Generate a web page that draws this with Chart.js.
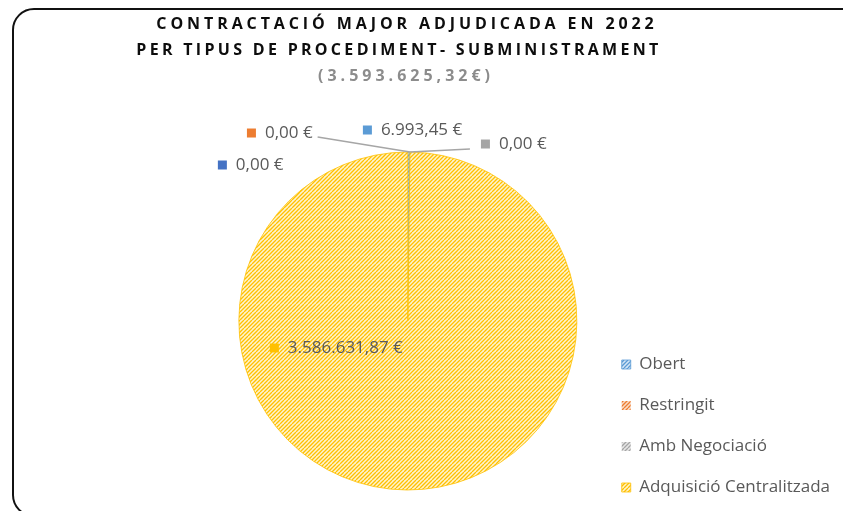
<!DOCTYPE html>
<html>
<head>
<meta charset="utf-8">
<script src="https://cdn.jsdelivr.net/npm/chart.js@4.4.1/dist/chart.umd.min.js"></script>
<style>
    html, body { margin: 0; padding: 0; background: #fff; overflow: hidden; }
    #wrap { position: relative; width: 843px; height: 511px; overflow: hidden; }
    #frame {
        position: absolute; left: 12px; top: 8px; width: 880px; height: 509px;
        box-sizing: border-box; border: 2px solid #111; border-radius: 22px;
        pointer-events: none;
    }
    #chart { position: absolute; left: 0; top: 0; }
</style>
</head>
<body>
<div id="wrap">
    <canvas id="chart" width="843" height="540"></canvas>
    <div id="frame"></div>
</div>
<script>
const categories = ['Obert', 'Restringit', 'Amb Negociació', 'Adquisició Centralitzada', ''];
const amounts = [6993.45, 0, 0, 3586631.87, 0];
const sliceColors = ['#5B9BD5', '#ED7D31', '#A5A5A5', '#FFC000', '#4472C4'];
const stripeLight = ['#D6E6F5', '#FADCC6', '#E6E6E6', '#FFF4CF', '#C6D4EE'];
const titleLines = ['CONTRACTACIÓ MAJOR ADJUDICADA EN 2022', 'PER TIPUS DE PROCEDIMENT- SUBMINISTRAMENT'];

// where each data label sits, relative to the slice edge (or the pie centre)
const labelPlace = [
    { from: 'edge', dx: -46, dy: -22 },
    { from: 'edge', dx: -163, dy: -19, lead: 'right' },
    { from: 'edge', dx: 71, dy: -8, lead: 'left' },
    { from: 'center', dx: -138, dy: 27 },
    { from: 'edge', dx: -190, dy: 13 }
];

function euro(v) {
    const parts = v.toFixed(2).split('.');
    return parts[0].replace(/\B(?=(\d{3})+(?!\d))/g, '.') + ',' + parts[1];
}

function stripes(dark, light) {
    const c = document.createElement('canvas');
    c.width = 8;
    c.height = 8;
    const g = c.getContext('2d');
    g.fillStyle = light;
    g.fillRect(0, 0, 8, 8);
    g.strokeStyle = dark;
    g.lineWidth = 1.3;
    g.beginPath();
    for (let k = -8; k <= 16; k += 4) {
        g.moveTo(k, 8);
        g.lineTo(k + 8, 0);
    }
    g.stroke();
    return g.createPattern(c, 'repeat');
}

const FONT = '"Open Sans", "Noto Sans", sans-serif';

const titlePlugin = {
    id: 'spacedTitle',
    afterDraw(chart) {
        const ctx = chart.ctx;
        const total = amounts.reduce((a, b) => a + b, 0);
        ctx.save();
        ctx.textAlign = 'center';
        ctx.textBaseline = 'middle';
        ctx.font = 'bold 16px ' + FONT;
        ctx.fillStyle = '#0d0d0d';
        ctx.letterSpacing = '3.9px';
        ctx.fillText(titleLines[0], 407, 24);
        ctx.letterSpacing = '3.3px';
        ctx.fillText(titleLines[1], 399, 50);
        ctx.fillStyle = '#8c8c8c';
        ctx.letterSpacing = '4px';
        ctx.fillText('(' + euro(total) + '€)', 406, 76);
        ctx.restore();
    }
};

const labelPlugin = {
    id: 'sliceLabels',
    afterDatasetsDraw(chart) {
        const ctx = chart.ctx;
        const meta = chart.getDatasetMeta(0);
        ctx.save();
        ctx.font = '17px ' + FONT;
        ctx.textBaseline = 'middle';
        meta.data.forEach((arc, i) => {
            const p = arc.getProps(['x', 'y', 'startAngle', 'endAngle', 'outerRadius'], true);
            const mid = (p.startAngle + p.endAngle) / 2;
            const place = labelPlace[i];
            let ax = p.x, ay = p.y;
            if (place.from === 'edge') {
                ax += Math.cos(mid) * p.outerRadius;
                ay += Math.sin(mid) * p.outerRadius;
            }
            const mx = ax + place.dx;
            const my = ay + place.dy;
            const text = euro(amounts[i]) + ' €';
            const tx = mx + 18;
            const tw = ctx.measureText(text).width;
            if (place.lead) {
                ctx.strokeStyle = '#a6a6a6';
                ctx.lineWidth = 1.5;
                ctx.beginPath();
                if (place.lead === 'right') {
                    ctx.moveTo(tx + tw + 5, my + 4);
                } else {
                    ctx.moveTo(mx - 11, my + 5);
                }
                ctx.lineTo(ax, ay);
                ctx.stroke();
            }
            ctx.fillStyle = sliceColors[i];
            ctx.fillRect(mx, my - 4.5, 9, 9);
            ctx.fillStyle = '#595959';
            ctx.fillText(text, tx, my);
        });
        ctx.restore();
    }
};

new Chart(document.getElementById('chart').getContext('2d'), {
    type: 'pie',
    data: {
        labels: categories,
        datasets: [{
            data: amounts,
            backgroundColor: sliceColors.map((c, i) => stripes(c, stripeLight[i])),
            borderColor: sliceColors,
            borderWidth: amounts.map(v => v > 0 ? 0.8 : 0),
            radius: 169
        }]
    },
    options: {
        responsive: false,
        animation: false,
        layout: {
            padding: { left: 218, right: 3, top: 122, bottom: 20 }
        },
        plugins: {
            legend: {
                position: 'right',
                align: 'end',
                labels: {
                    boxWidth: 9,
                    boxHeight: 9,
                    padding: 24,
                    color: '#595959',
                    font: { family: FONT, size: 17 },
                    filter: item => item.text !== ''
                }
            },
            tooltip: { enabled: false }
        }
    },
    plugins: [labelPlugin, titlePlugin]
});
</script>
</body>
</html>
